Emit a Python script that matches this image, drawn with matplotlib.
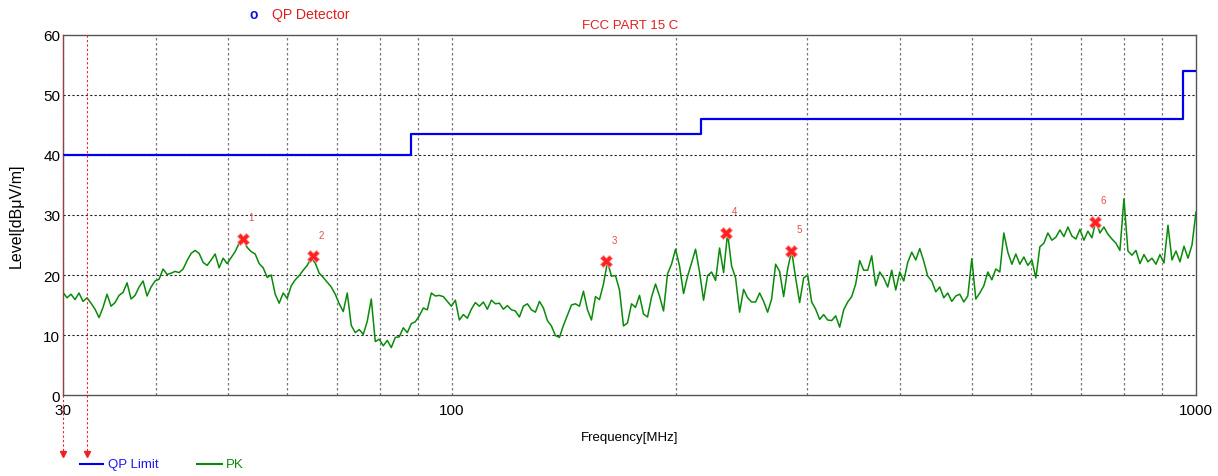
import matplotlib
matplotlib.use("Agg")
import matplotlib.pyplot as plt
from matplotlib.ticker import FixedLocator, NullFormatter
import numpy as np

plt.rcParams['font.family'] = ['Liberation Sans', 'DejaVu Sans']

# sweep settings
f_start = 30
f_stop = 1000

# peak detector trace, dBuV/m, one reading per sweep step
pk_level = [
    17.1, 16.2, 16.8, 15.9, 17.0, 15.6, 16.2, 15.3, 14.3, 12.9,
    14.6, 16.8, 14.8, 15.4, 16.6, 17.1, 18.7, 16.0, 16.6, 18.0,
    19.0, 16.5, 18.0, 19.0, 19.3, 21.0, 20.1, 20.3, 20.6, 20.4,
    21.0, 22.4, 23.6, 24.1, 23.6, 22.1, 21.6, 22.5, 23.5, 21.2,
    22.8, 21.9, 22.9, 23.9, 25.3, 26.0, 24.6, 23.9, 23.5, 21.9,
    21.2, 19.6, 20.0, 16.8, 15.3, 17.0, 16.1, 18.2, 19.2, 19.9,
    20.8, 21.6, 22.8, 22.0, 20.3, 19.6, 18.8, 18.0, 16.8, 15.2,
    13.9, 17.0, 11.6, 10.4, 10.9, 10.1, 12.3, 16.0, 8.9, 9.3,
    8.2, 9.1, 7.9, 9.6, 9.7, 11.2, 10.4, 11.9, 12.2, 13.2,
    14.5, 14.2, 17.0, 16.5, 16.6, 16.4, 15.6, 14.8, 15.8, 12.5,
    13.4, 12.8, 14.3, 15.4, 14.8, 15.5, 14.3, 15.8, 15.2, 15.3,
    14.3, 14.9, 14.2, 14.0, 13.0, 14.8, 15.2, 14.2, 13.8,
    15.6, 14.5, 12.4, 11.5, 9.9, 9.6, 11.6, 13.3, 15.0, 15.2,
    14.8, 17.3, 14.2, 12.5, 16.4, 15.9, 18.5, 22.2, 19.8, 19.9,
    17.5, 11.5, 12.0, 15.2, 14.6, 16.6, 13.5, 13.0, 16.3, 18.5,
    16.5, 14.0, 20.2, 21.8, 24.3, 21.5, 16.9, 19.8, 22.0, 24.3,
    20.5, 15.8, 19.9, 20.5, 19.1, 24.5, 20.4, 27.0, 21.5, 19.5,
    13.8, 17.6, 16.2, 15.5, 15.5, 17.0, 15.6, 13.8, 16.0,
    21.8, 20.6, 16.4, 21.0, 24.0, 19.5, 15.4, 19.5, 20.0, 15.5,
    14.3, 12.6, 13.4, 12.5, 12.4, 13.2, 11.3, 14.2, 15.5, 16.4,
    18.5, 22.4, 20.8, 20.8, 23.2, 18.2, 20.5, 19.5, 18.0, 20.8,
    17.5, 20.5, 19.0, 22.1, 23.8, 22.5, 24.4, 22.3, 19.8, 19.0,
    17.2, 18.0, 16.2, 17.0, 15.6, 16.5, 16.8, 15.5, 16.5, 22.7,
    16.0, 17.0, 18.2, 20.5, 19.2, 21.0, 20.5, 27.0,
    23.8, 21.8, 23.5, 21.8, 23.0, 21.6, 22.5, 19.5, 24.7, 25.3,
    27.0, 25.8, 26.3, 27.5, 26.4, 28.0, 26.5, 26.0, 27.6, 25.8,
    27.3, 26.2, 29.0, 27.0, 28.0, 26.8, 26.0, 25.3, 24.1, 32.7,
    24.0, 23.3, 24.1, 21.9, 23.4, 22.2, 22.8, 21.8, 23.4, 22.0,
    28.3, 22.5, 24.0, 22.2, 24.8, 22.8, 25.0, 30.5,
]
pk_freq = np.geomspace(f_start, f_stop, len(pk_level))

# FCC Part 15 class B radiated limit (QP)
limit_freq = [30, 88, 216, 960, 1000]
limit_level = [40, 43.5, 46, 54, 54]

# marked peaks
mark_freq = [52.3, 65.1, 161.1, 233.3, 285.2, 731.4]
mark_level = [26.0, 23.1, 22.3, 27.0, 24.0, 28.9]
mark_no = ['1', '2', '3', '4', '5', '6']

# marker lines at the low end
cursor_freq = [30, 32.3]

fig = plt.figure(figsize=(12.18, 4.77), dpi=100)
ax = fig.add_axes([63 / 1218, 1 - 396 / 477, 1133 / 1218, 360 / 477])

ax.set_xscale('log')
ax.set_xlim(f_start, f_stop)
ax.set_ylim(0, 60)

ax.step(limit_freq, limit_level, where='post', color='#0000ee', lw=1.6, zorder=4)
ax.plot(pk_freq, pk_level, color='#0a8a0a', lw=1.1, zorder=3)
ax.plot(mark_freq, mark_level, ls='none', marker='X', ms=8, color='#ff2020',
        mec='#ff9090', mew=0.6, zorder=5)
for f, l, n in zip(mark_freq, mark_level, mark_no):
    ax.annotate(n, (f, l), xytext=(6, 12), textcoords='offset points',
                color='#e05050', fontsize=7, ha='center', va='bottom')

# red dashed cursors running below the axis with arrow heads
for f in cursor_freq:
    ax.plot([f, f], [60, -9.5], color='#ee2222', lw=0.8, ls=(0, (2, 2)),
            clip_on=False, zorder=6)
    ax.plot([f], [-9.9], marker='v', ms=4, color='#ee2222', clip_on=False)

# grid
ax.xaxis.set_major_locator(FixedLocator([30, 100, 1000]))
ax.xaxis.set_minor_locator(FixedLocator([40, 50, 60, 70, 80, 90, 200, 300, 400,
                                         500, 600, 700, 800, 900]))
ax.xaxis.set_minor_formatter(NullFormatter())
ax.set_xticklabels(['30', '100', '1000'])
ax.set_yticks(range(0, 61, 10))
for v in range(10, 60, 10):
    ax.axhline(v, color='#222222', lw=0.8, ls=(0, (2, 2)), zorder=1)
for v in [40, 50, 60, 70, 80, 90, 100, 200, 300, 400, 500, 600, 700, 800, 900]:
    ax.axvline(v, color='#777777', lw=0.9, ls=(0, (2, 2)), zorder=1)

ax.tick_params(axis='both', which='both', length=0, labelsize=11)
ax.tick_params(axis='y', pad=2)
ax.tick_params(axis='x', pad=6)
for s in ax.spines.values():
    s.set_color('#555555')
    s.set_linewidth(1)

ax.set_ylabel('Level[dBμV/m]', fontsize=11.5, labelpad=14)
ax.set_xlabel('Frequency[MHz]', fontsize=9.5, labelpad=10)

fig.text(630 / 1218, 1 - 26 / 477, 'FCC PART 15 C', color='#e02020',
         fontsize=9.5, ha='center', va='center')
fig.text(254 / 1218, 1 - 15 / 477, 'o', color='#1010dd', fontsize=10,
         ha='center', va='center', fontweight='bold')
fig.text(272 / 1218, 1 - 15 / 477, 'QP Detector', color='#e02020',
         fontsize=10.2, ha='left', va='center')

# bottom legend
fig.add_artist(plt.Line2D([80 / 1218, 103 / 1218], [1 - 465 / 477] * 2,
                          color='#0000ee', lw=1.5))
fig.text(108 / 1218, 1 - 465 / 477, 'QP Limit', color='#1a1aee', fontsize=9.5,
         ha='left', va='center')
fig.add_artist(plt.Line2D([197 / 1218, 222 / 1218], [1 - 465 / 477] * 2,
                          color='#0a8a0a', lw=1.5))
fig.text(226 / 1218, 1 - 465 / 477, 'PK', color='#0a8a0a', fontsize=9.5,
         ha='left', va='center')

fig.savefig('out.png', dpi=100)
